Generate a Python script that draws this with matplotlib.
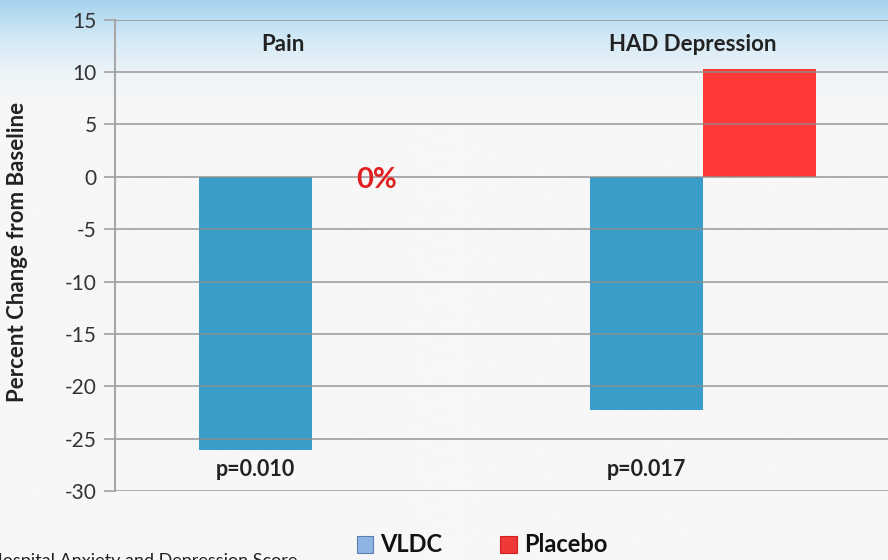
import numpy as np
import matplotlib.pyplot as plt
from matplotlib.colors import LinearSegmentedColormap

plt.rcParams['font.family'] = ['Lato', 'DejaVu Sans']
plt.rcParams['axes.unicode_minus'] = False

# data
groups = ["Pain", "HAD Depression"]
vldc = [-26.1, -22.3]
placebo = [0.0, 10.3]
p_values = ["p=0.010", "p=0.017"]
series_names = ["VLDC", "Placebo"]

fig = plt.figure(figsize=(8.88, 5.6), dpi=100)

# light blue gradient backdrop
bg = fig.add_axes([0, 0, 1, 1], zorder=-10)
grad = np.linspace(0, 1, 256).reshape(-1, 1)
cm = LinearSegmentedColormap.from_list("bg", ["#a6d3ee", "#d3e9f6", "#eef4f8", "#f7f7f7"])
bg.imshow(grad, aspect="auto", cmap=cm, extent=[0, 1, 0, 1], origin="upper",
          vmin=0, vmax=0.2)
bg.axis("off")

ax = fig.add_axes([0.1295, 0.123, 0.8705, 0.842])
ax.patch.set_alpha(0)

x = np.arange(len(groups))
w = 0.289
ax.bar(x - w / 2, vldc, width=w, color="#3a9cc9", zorder=2)
ax.bar(x + w / 2, placebo, width=w, color="#ff3838", zorder=2)

ax.set_ylim(-30, 15)
ax.set_xlim(-0.504, 1.473)
ax.set_yticks(np.arange(-30, 16, 5))
ax.set_xticks([])
ax.yaxis.grid(True, color="#8c8c8c", linewidth=1.3, alpha=0.75, zorder=3)
ax.set_axisbelow(False)
for s in ["top", "right", "bottom"]:
    ax.spines[s].set_visible(False)
ax.spines["left"].set_color("#a8a8a8")
ax.spines["left"].set_linewidth(1.5)
ax.tick_params(axis="y", length=8, color="#a8a8a8", width=1.3, labelsize=15,
               labelcolor="#333333", pad=5)

# y label sits near the left edge
fig.text(18 / 888, 1 - 252 / 560, "Percent Change from Baseline", rotation=90,
         ha="center", va="center", fontsize=16, fontweight="bold", color="#222222")

# group titles at top
ax.text(-0.074, 12.6, groups[0], ha="center", va="center", fontsize=16,
        fontweight="bold", color="#222222")
ax.text(1 - 0.026, 12.6, groups[1], ha="center", va="center", fontsize=16,
        fontweight="bold", color="#222222")

# p-values under the VLDC bars
for xi, pv in zip(x, p_values):
    ax.text(xi - w / 2, -27.9, pv, ha="center", va="center", fontsize=15.5,
            fontweight="bold", color="#222222")

# zero placebo change for pain
ax.text(x[0] + w / 2 + 0.02, -0.35, "0%", ha="center", va="center", fontsize=21,
        fontweight="bold", color="#e02020")

# legend
fig.patches.append(plt.Rectangle((0.4015, 0.0125), 0.0185, 0.03, transform=fig.transFigure,
                                 facecolor="#8db4e2", edgecolor="#5a7fb0", linewidth=0.8))
fig.text(0.428, 0.027, series_names[0], ha="left", va="center", fontsize=17,
         fontweight="bold", color="#111111")
fig.patches.append(plt.Rectangle((0.5635, 0.0125), 0.0185, 0.03, transform=fig.transFigure,
                                 facecolor="#f03838", edgecolor="#d02020", linewidth=0.8))
fig.text(0.59, 0.027, series_names[1], ha="left", va="center", fontsize=17,
         fontweight="bold", color="#111111")

# footnote cut off at the bottom edge, as in the source slide
fig.text(-0.012, -0.016, "Hospital Anxiety and Depression Score", ha="left", va="bottom",
         fontsize=13, color="#222222")

fig.savefig("out.png", dpi=100)
